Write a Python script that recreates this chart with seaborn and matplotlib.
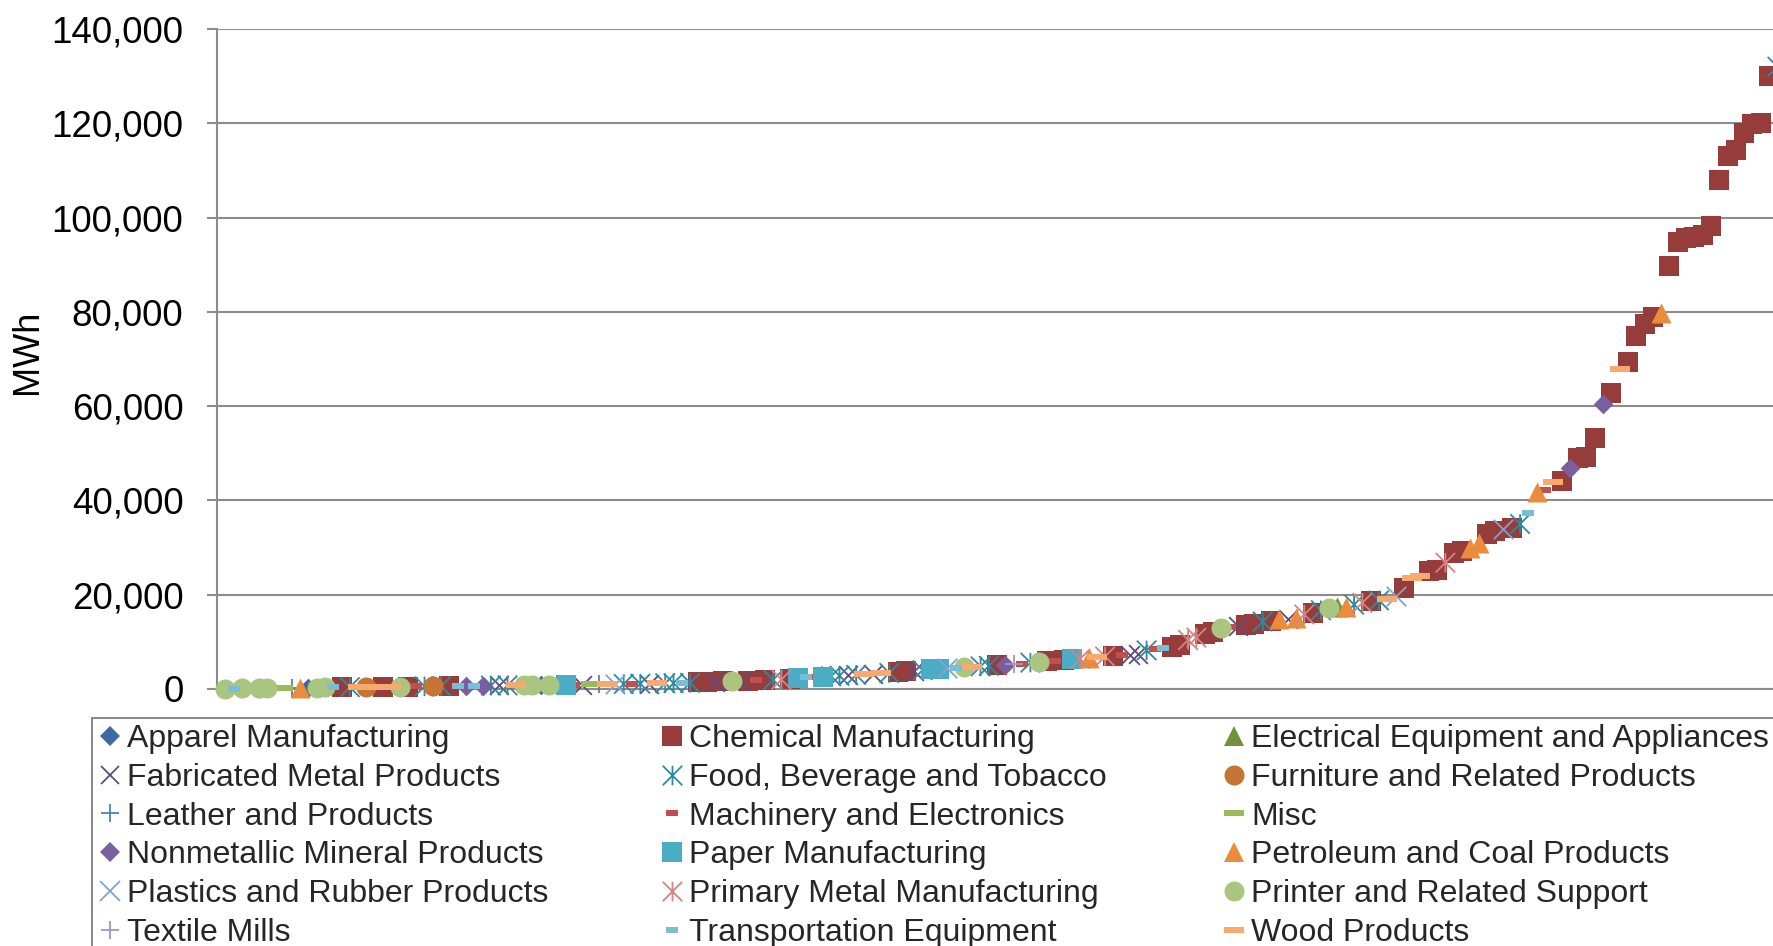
import numpy as np
import pandas as pd
import matplotlib
matplotlib.use("Agg")
import matplotlib.pyplot as plt
from matplotlib.path import Path
from matplotlib.lines import Line2D
from matplotlib.patches import Rectangle
from matplotlib.ticker import FuncFormatter
import seaborn as sns

# Sector keys, names and colours, in series order
sector_keys = ["APP", "CHM", "ELE", "FAB", "FOO", "FUR", "LEA", "MAC", "MSC",
               "NMM", "PAP", "PET", "PLA", "PRM", "PRN", "TEX", "TRN", "WOO"]
sector_names = ["Apparel Manufacturing", "Chemical Manufacturing",
                "Electrical Equipment and Appliances", "Fabricated Metal Products",
                "Food, Beverage and Tobacco", "Furniture and Related Products",
                "Leather and Products", "Machinery and Electronics", "Misc",
                "Nonmetallic Mineral Products", "Paper Manufacturing",
                "Petroleum and Coal Products", "Plastics and Rubber Products",
                "Primary Metal Manufacturing", "Printer and Related Support",
                "Textile Mills", "Transportation Equipment", "Wood Products"]
sector_colors = ["#3D68A3", "#963C3A", "#71913A", "#5F4B7F", "#2E8AA0", "#C47535",
                 "#4F81BD", "#C0504D", "#9BBB59", "#7A5FA0", "#4BACC6", "#EB8B3C",
                 "#7FA4D3", "#D58482", "#AAC580", "#A793C4", "#78BED6", "#F8A96E"]

# Facilities ranked by annual electricity use: sector of each site and its MWh
site_sector = [
    "PRN", "TRN", "PRN", "PLA", "PRN", "PRN", "MSC", "MSC", "LEA", "PET",
    "APP", "PRN", "PRN", "TRN", "CHM", "FOO", "WOO", "FUR", "WOO", "CHM",
    "WOO", "PRN", "CHM", "MAC", "FOO", "FUR", "FOO", "CHM", "TRN", "NMM",
    "TRN", "NMM", "FOO", "FAB", "FOO", "WOO", "PRN", "PRN", "APP", "PRN",
    "APP", "PAP", "MAC", "FAB", "MSC", "LEA", "WOO", "PLA", "FOO", "MAC",
    "FOO", "FAB", "WOO", "FOO", "FOO", "TRN", "FOO", "CHM", "CHM", "FAB",
    "CHM", "PRN", "FAB", "CHM", "MAC", "CHM", "FOO", "PRM", "CHM", "PAP",
    "TRN", "MAC", "PAP", "FOO", "FOO", "FAB", "FOO", "WOO", "FAB", "WOO",
    "FOO", "CHM", "CHM", "FAB", "FOO", "PAP", "PAP", "PLA", "TRN", "PRN",
    "WOO", "FOO", "FOO", "CHM", "NMM", "TEX", "MAC", "FOO", "PRN", "CHM",
    "MAC", "CHM", "PAP", "PRM", "PET", "WOO", "PRM", "CHM", "MAC", "FAB",
    "FAB", "FOO", "MAC", "TRN", "CHM", "CHM", "PRM", "PRM", "CHM", "CHM",
    "PRN", "MAC", "FAB", "CHM", "CHM", "FOO", "CHM", "PET", "FAB", "PET",
    "PRM", "CHM", "FOO", "PRN", "ELE", "PET", "FOO", "PRM", "CHM", "FOO",
    "WOO", "PLA", "CHM", "WOO", "WOO", "CHM", "CHM", "PRM", "CHM", "CHM",
    "PET", "PET", "CHM", "CHM", "PLA", "CHM", "FOO", "TRN", "PET", "MAC",
    "WOO", "CHM", "NMM", "CHM", "CHM", "CHM", "NMM", "CHM", "WOO", "CHM",
    "CHM", "CHM", "CHM", "PET", "CHM", "CHM", "CHM", "CHM", "CHM", "CHM",
    "CHM", "CHM", "CHM", "CHM", "CHM", "CHM", "CHM", "FOO",
]
site_mwh = [
    80, 100, 130, 150, 170, 190, 210, 230, 250, 270,
    290, 310, 330, 350, 370, 390, 410, 430, 450, 470,
    490, 510, 530, 550, 570, 590, 610, 630, 650, 670,
    690, 710, 730, 750, 770, 790, 810, 830, 850, 870,
    890, 910, 930, 950, 970, 990, 1010, 1030, 1060, 1090,
    1120, 1150, 1180, 1210, 1240, 1270, 1300, 1400, 1500, 1550,
    1600, 1700, 1750, 1800, 1850, 1900, 1950, 2000, 2200, 2400,
    2450, 2500, 2600, 2700, 2800, 2900, 3000, 3100, 3200, 3300,
    3400, 3600, 3800, 3900, 4000, 4200, 4300, 4400, 4500, 4600,
    4700, 4800, 4900, 5000, 5100, 5200, 5400, 5600, 5800, 5900,
    6000, 6100, 6300, 6400, 6500, 6700, 6900, 7000, 7200, 7300,
    7500, 8200, 8400, 8700, 9000, 9300, 10400, 10900, 11700, 12100,
    13000, 13100, 13300, 13500, 13800, 14300, 14500, 14800, 14900, 15100,
    15800, 16200, 16700, 17100, 17300, 17500, 17900, 18300, 18700, 18800,
    19000, 19700, 21500, 23600, 24000, 25000, 25300, 26800, 28900, 29200,
    30000, 31000, 32800, 33500, 33900, 34200, 35000, 37400, 41800, 42300,
    43900, 44100, 46900, 49000, 49300, 53200, 60400, 62800, 67900, 69400,
    74900, 77500, 79000, 79700, 89700, 94800, 95600, 95900, 96200, 98200,
    108000, 113000, 114300, 118000, 119800, 120000, 130000, 132000,
]

y_ticks = [0, 20000, 40000, 60000, 80000, 100000, 120000, 140000]

# ---- marker shapes -------------------------------------------------------
def dash_path(w, h):
    return Path([(-w, -h), (w, -h), (w, h), (-w, h), (-w, -h)],
                [Path.MOVETO, Path.LINETO, Path.LINETO, Path.LINETO, Path.CLOSEPOLY])

star_path = Path([(0, -1), (0, 1), (-1, -1), (1, 1), (-1, 1), (1, -1)],
                 [Path.MOVETO, Path.LINETO, Path.MOVETO, Path.LINETO,
                  Path.MOVETO, Path.LINETO])
long_dash = dash_path(10.5, 3.0)
short_dash = dash_path(5.5, 2.5)

# (marker, size in points, line width for line-art markers or None)
sector_marker = {
    "APP": ("D", 10.0, None), "CHM": ("s", 14.0, None), "ELE": ("^", 14.4, None),
    "FAB": ("x", 13.5, 1.3), "FOO": (star_path, 14.0, 1.3), "FUR": ("o", 14.4, None),
    "LEA": ("+", 13.0, 1.3), "MAC": (short_dash, 8.0, None), "MSC": (long_dash, 15.0, None),
    "NMM": ("D", 10.0, None), "PAP": ("s", 14.0, None), "PET": ("^", 14.4, None),
    "PLA": ("x", 14.0, 1.3), "PRM": (star_path, 14.0, 1.3), "PRN": ("o", 14.4, None),
    "TEX": ("+", 13.0, 1.3), "TRN": (short_dash, 8.0, None), "WOO": (long_dash, 15.0, None),
}

sns.set_theme(style="white")
plt.rcParams["font.family"] = ["Liberation Sans", "DejaVu Sans"]

df = pd.DataFrame({"rank": np.arange(1, len(site_mwh) + 1),
                   "sector": site_sector, "mwh": site_mwh})

W, H = 1773, 946
fig = plt.figure(figsize=(W / 100, H / 100), dpi=100)
fig.patch.set_facecolor("white")
ax = fig.add_axes([217 / W, 257 / H, 1660 / W, 660 / H])

grey = "#8C8C8C"
for key, color in zip(sector_keys, sector_colors):
    sub = df[df["sector"] == key]
    mk, ms, lw = sector_marker[key]
    kws = dict(marker=mk, s=ms ** 2, color=color, ax=ax, legend=False, zorder=3,
               clip_on=False)
    if lw is None:
        kws.update(linewidth=0, edgecolor=color)
    else:
        kws.update(linewidth=lw, edgecolor=color)
        if not isinstance(mk, str):
            kws.update(facecolor="none")
    sns.scatterplot(data=sub, x="rank", y="mwh", **kws)

ax.set_xlim(0, 200)
ax.set_ylim(0, 140000)
ax.set_xticks([])
ax.set_yticks(y_ticks)
ax.yaxis.set_major_formatter(FuncFormatter(lambda v, p: f"{v:,.0f}"))
ax.yaxis.grid(True, color=grey, linewidth=1.5)
ax.set_axisbelow(True)
for side in ("top", "right"):
    ax.spines[side].set_visible(False)
for side in ("left", "bottom"):
    ax.spines[side].set_color(grey)
    ax.spines[side].set_linewidth(1.5)
ax.tick_params(axis="y", left=True, length=7.2, width=1.5, color=grey, pad=17,
               labelsize=26.5, labelcolor="black")
ax.set_xlabel("")
ax.set_ylabel("MWh", fontsize=26, color="black")
ax.yaxis.set_label_coords(-0.1034, 0.511)

# ---- legend: three columns inside one grey box --------------------------
fig.patches.append(Rectangle((92 / W, -0.2), 2.0, (H - 717.7) / H + 0.2,
                             transform=fig.transFigure, fill=False,
                             edgecolor=grey, linewidth=1.5))

def handle_for(key, color):
    mk, ms, lw = sector_marker[key]
    if lw is None:
        return Line2D([], [], linestyle="none", marker=mk, markersize=ms,
                      markerfacecolor=color, markeredgewidth=0)
    return Line2D([], [], linestyle="none", marker=mk, markersize=ms,
                  markerfacecolor="none", markeredgecolor=color, markeredgewidth=lw)

col_left_px = [100.4, 662.4, 1224.4]
for c in range(3):
    keys = sector_keys[c::3]
    handles = [handle_for(k, sector_colors[sector_keys.index(k)]) for k in keys]
    labels = [sector_names[sector_keys.index(k)] for k in keys]
    fig.legend(handles, labels, loc="upper left",
               bbox_to_anchor=(col_left_px[c] / W, (H - 724) / H),
               frameon=False, fontsize=23, handlelength=0.6, handletextpad=0.232,
               labelspacing=0.275, borderpad=0, borderaxespad=0)

fig.savefig("out.png", dpi=100)
